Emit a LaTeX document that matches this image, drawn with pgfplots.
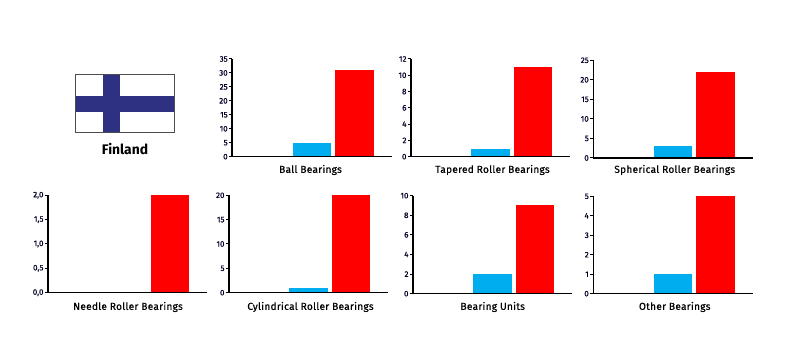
\documentclass[border=0pt]{standalone}
\usepackage{pgfplots}
\pgfplotsset{compat=1.18}
\usepackage{fontspec}
\setmainfont{Fira Sans}
\definecolor{barblue}{HTML}{00AEEF}
\definecolor{flagblue}{HTML}{2E3182}
% #1 left, #2 top, #3 bottom (pixels), #4 ymax, #5 ytick step, #6 extra options, #7 #8 #9 values
\newcommand{\panel}[9]{%
 \begin{axis}[
  at={({#1*0.75pt},{(352-#3)*0.75pt})}, anchor=south west,
  scale only axis, width=119.6pt, height={(#3-#2)*0.75pt},
  xmin=-0.871, xmax=2.873, ymin=0, ymax=#4,
  axis lines=left, axis line style={-, black, line width=1.2pt},
  xtick=\empty, ytick distance=#5,
  tick style={black, line width=0.75pt}, major tick length=2.4pt,
  tick align=outside,
  y tick label style={font=\fontsize{6}{7}\selectfont\addfontfeature{FakeBold=0.5}, inner sep=0.8pt, text=black!85!blue},
  /pgf/number format/assume math mode=true, #6,
  clip=false, axis on top]
  \addplot[ybar, bar width=28.8pt, bar shift=0pt, draw=black, line width=0.9pt, fill=black] coordinates {(0,#7)};
  \addplot[ybar, bar width=28.8pt, bar shift=0pt, draw=none, fill=barblue] coordinates {(1,#8)};
  \addplot[ybar, bar width=28.8pt, bar shift=0pt, draw=none, fill=red] coordinates {(2,#9)};
 \end{axis}}
\newcommand{\lab}[3]{\node[font=\fontsize{7.6}{9}\selectfont\addfontfeature{LetterSpace=2.5,FakeBold=0.5}, text=black, inner sep=0pt] at ({#1*0.75pt},{(352-#2)*0.75pt}) {#3};}
\begin{document}
\begin{tikzpicture}[x=0.75pt,y=0.75pt]
\path (0,0) rectangle (800,352);
% flag
\fill[white] (75.3,352-74.7) rectangle (174.7,352-132.3);
\fill[flagblue] (103.3,352-74.7) rectangle (119.7,352-132.3);
\fill[flagblue] (75.3,352-95.7) rectangle (174.7,352-112);
\draw[black!70, line width=0.6pt] (75.3,352-74.7) rectangle (174.7,352-132.3);
\node[font=\fontsize{10.4}{12}\selectfont\bfseries, inner sep=0pt] at (125,352-149.3) {Finland};
\panel{232.2}{59}{156.7}{35}{5}{}{0}{5}{31}
\panel{411}{59}{156.7}{12}{2}{}{0}{1}{11}
\panel{593.3}{60.3}{158}{25}{5}{}{0}{3}{22}
\panel{48}{195.3}{292.7}{2}{0.5}{yticklabel style={/pgf/number format/.cd,fixed,fixed zerofill,precision=1,use comma}}{0}{0}{2}
\panel{229}{195.3}{292.7}{20}{5}{}{0}{1}{20}
\panel{413}{195.7}{293.7}{10}{2}{}{0}{2}{9}
\panel{593.3}{196.3}{293.7}{5}{1}{}{0}{1}{5}
\lab{310.5}{170}{Ball Bearings}
\lab{492.5}{170}{Tapered Roller Bearings}
\lab{674.7}{170}{Spherical Roller Bearings}
\lab{128}{307}{Needle Roller Bearings}
\lab{310.5}{307}{Cylindrical Roller Bearings}
\lab{492.7}{307}{Bearing Units}
\lab{674.7}{307}{Other Bearings}
\end{tikzpicture}
\end{document}
